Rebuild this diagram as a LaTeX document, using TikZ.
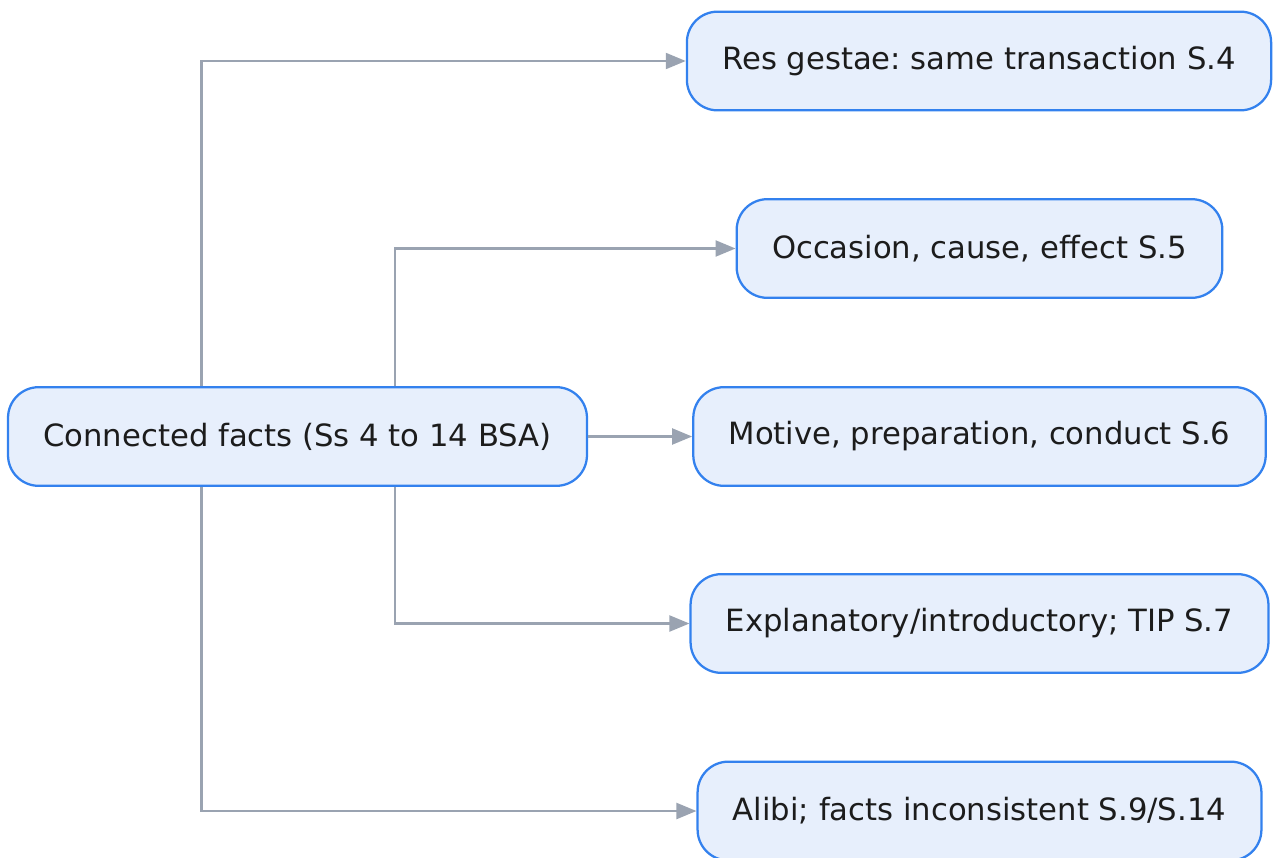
\documentclass[tikz,border=0pt]{standalone}
\usepackage{fontspec}
\setmainfont[Ligatures=NoCommon]{DejaVu Sans}
\usetikzlibrary{arrows.meta}
\definecolor{boxfill}{HTML}{E7EFFC}
\definecolor{boxline}{HTML}{3381EE}
\definecolor{linkgray}{HTML}{9AA3B1}
\definecolor{textdark}{HTML}{1C1C1C}
\frenchspacing
\begin{document}
\begin{tikzpicture}[x=0.75pt, y=-0.75pt,
  fact/.style={draw=boxline, fill=boxfill, line width=1.7pt, rounded corners=23pt,
    text=textdark, font=\fontsize{23}{27}\selectfont,
    inner xsep=26.5pt, minimum height=74pt},
  link/.style={draw=linkgray, line width=1.6pt,
    -{Triangle[length=15pt,width=12pt]}}]
  \useasboundingbox (0,0) rectangle (1273,857);
  \node[fact] (connected) at (297.5,436.5) {Connected facts (Ss 4 to 14 BSA)};
  \node[fact] (resgestae) at (979,61) {Res gestae: same transaction S.4};
  \node[fact] (occasion) at (979.5,248.5) {Occasion, cause, effect S.5};
  \node[fact] (motive) at (979.5,436.5) {Motive, preparation, conduct S.6};
  \node[fact] (explanatory) at (979.5,623.5) {Explanatory/introductory; TIP S.7};
  \node[fact] (alibi) at (979.5,811) {Alibi; facts inconsistent S.9/S.14};
  \draw[link] ([xshift=-72pt]connected.north) |- (resgestae.west);
  \draw[link] ([xshift=73pt]connected.north) |- (occasion.west);
  \draw[link] (connected.east) -- (motive.west);
  \draw[link] ([xshift=73pt]connected.south) |- (explanatory.west);
  \draw[link] ([xshift=-72pt]connected.south) |- (alibi.west);
\end{tikzpicture}
\end{document}
